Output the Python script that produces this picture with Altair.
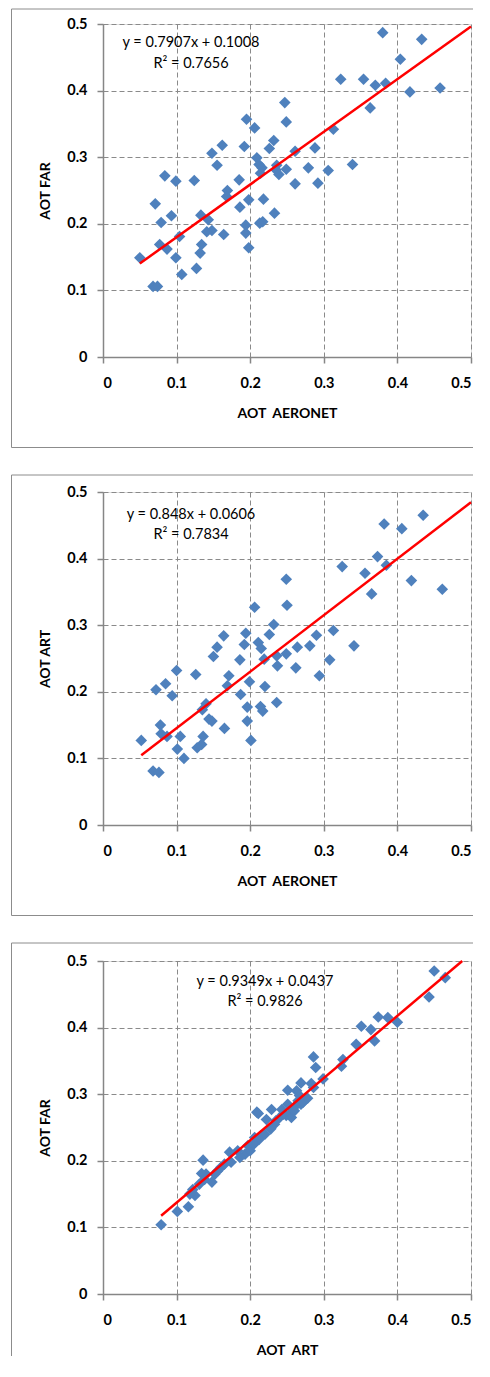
import altair as alt
import pandas as pd

# ---------------- data ----------------
ticks = [0, 0.1, 0.2, 0.3, 0.4, 0.5]

p1_x = [0.380, 0.433, 0.404, 0.323, 0.354, 0.370, 0.384, 0.417, 0.458, 0.363,
        0.247, 0.249, 0.195, 0.206, 0.313, 0.232, 0.226, 0.192, 0.162, 0.148,
        0.155, 0.209, 0.212, 0.216, 0.214, 0.236, 0.235, 0.239, 0.249, 0.261,
        0.288, 0.279, 0.306, 0.339, 0.261, 0.292, 0.185, 0.169, 0.168, 0.198,
        0.218, 0.186, 0.233, 0.213, 0.217, 0.194, 0.194, 0.198, 0.164, 0.148,
        0.141, 0.143, 0.133, 0.124, 0.099, 0.084, 0.071, 0.093, 0.079, 0.077,
        0.087, 0.104, 0.099, 0.107, 0.134, 0.132, 0.127, 0.050, 0.068, 0.074]
p1_y = [0.487, 0.477, 0.447, 0.417, 0.417, 0.408, 0.411, 0.398, 0.404, 0.374,
        0.382, 0.353, 0.357, 0.344, 0.342, 0.325, 0.313, 0.316, 0.318, 0.306,
        0.288, 0.299, 0.289, 0.284, 0.276, 0.288, 0.281, 0.274, 0.282, 0.309,
        0.314, 0.284, 0.280, 0.289, 0.260, 0.261, 0.266, 0.250, 0.241, 0.236,
        0.237, 0.225, 0.216, 0.201, 0.203, 0.198, 0.186, 0.164, 0.184, 0.190,
        0.188, 0.206, 0.213, 0.265, 0.264, 0.272, 0.230, 0.212, 0.202, 0.169,
        0.162, 0.181, 0.149, 0.124, 0.169, 0.156, 0.133, 0.149, 0.106, 0.106]

p2_x = [0.435, 0.382, 0.406, 0.373, 0.385, 0.325, 0.356, 0.365, 0.419, 0.461,
        0.249, 0.250, 0.313, 0.290, 0.281, 0.264, 0.341, 0.249, 0.308, 0.294,
        0.262, 0.206, 0.232, 0.226, 0.194, 0.192, 0.164, 0.155, 0.211, 0.215,
        0.150, 0.186, 0.219, 0.236, 0.237, 0.100, 0.126, 0.072, 0.085, 0.094,
        0.171, 0.169, 0.199, 0.187, 0.220, 0.236, 0.140, 0.135, 0.144, 0.148,
        0.165, 0.196, 0.214, 0.217, 0.196, 0.201, 0.078, 0.079, 0.087, 0.105,
        0.052, 0.101, 0.110, 0.136, 0.134, 0.128, 0.068, 0.076]
p2_y = [0.465, 0.452, 0.445, 0.403, 0.390, 0.388, 0.378, 0.347, 0.367, 0.354,
        0.369, 0.330, 0.292, 0.285, 0.269, 0.267, 0.269, 0.257, 0.248, 0.224,
        0.236, 0.327, 0.301, 0.286, 0.288, 0.271, 0.284, 0.267, 0.274, 0.265,
        0.253, 0.248, 0.249, 0.254, 0.239, 0.232, 0.226, 0.203, 0.212, 0.194,
        0.224, 0.209, 0.215, 0.196, 0.208, 0.184, 0.182, 0.173, 0.159, 0.156,
        0.145, 0.177, 0.178, 0.171, 0.156, 0.127, 0.150, 0.137, 0.133, 0.133,
        0.127, 0.114, 0.100, 0.133, 0.121, 0.116, 0.081, 0.079]

p3_x = [0.450, 0.465, 0.443, 0.400, 0.387, 0.374, 0.351, 0.364, 0.369, 0.344,
        0.326, 0.324, 0.286, 0.289, 0.299, 0.283, 0.286, 0.269, 0.251, 0.263,
        0.267, 0.251, 0.269, 0.243, 0.209, 0.229, 0.211, 0.222, 0.233, 0.240,
        0.249, 0.206, 0.215, 0.197, 0.183, 0.193, 0.186, 0.172, 0.174, 0.156,
        0.148, 0.140, 0.134, 0.136, 0.131, 0.122, 0.125, 0.118, 0.116, 0.101,
        0.079, 0.255, 0.258, 0.262, 0.265, 0.272, 0.278, 0.245, 0.256, 0.260,
        0.235, 0.228, 0.220, 0.212, 0.160, 0.165, 0.152, 0.138, 0.200, 0.205]
p3_y = [0.485, 0.475, 0.446, 0.408, 0.415, 0.416, 0.402, 0.397, 0.380, 0.375,
        0.352, 0.342, 0.356, 0.340, 0.323, 0.316, 0.310, 0.317, 0.306, 0.305,
        0.298, 0.285, 0.285, 0.277, 0.273, 0.277, 0.271, 0.262, 0.255, 0.265,
        0.268, 0.235, 0.238, 0.223, 0.215, 0.210, 0.205, 0.213, 0.198, 0.185,
        0.168, 0.180, 0.181, 0.201, 0.165, 0.157, 0.148, 0.150, 0.131, 0.124,
        0.104, 0.272, 0.278, 0.283, 0.290, 0.288, 0.294, 0.270, 0.265, 0.275,
        0.260, 0.248, 0.240, 0.232, 0.190, 0.195, 0.180, 0.172, 0.215, 0.225]

fits = [(0.7907, 0.1008, "0.7656"), (0.848, 0.0606, "0.7834"), (0.9349, 0.0437, "0.9826")]
x_titles = ["AOT\u00a0 AERONET", "AOT\u00a0 AERONET", "AOT\u00a0 ART"]
y_titles = ["AOT FAR", "AOT ART", "AOT FAR"]

# ---------------- style ----------------
FONT = "Lato"
BLUE = "#4F81BD"
GRID = "#8a8a8a"
AX = "#868686"
BOX = "#8c8c8c"
W, H = 368, 333
RIGHT = 370


def axis(is_x, title):
    return alt.Axis(
        values=ticks, format="~g", grid=True, gridDash=[5, 3], gridColor=GRID,
        gridWidth=1, domainColor=AX, domainWidth=1.5, tickColor=AX, tickSize=6,
        tickWidth=1.5, labelFont=FONT, labelFontWeight="bold", labelFontSize=14.5,
        labelColor="#000000", labelPadding=13 if is_x else 10,
        title=title, titleFont=FONT, titleFontSize=14, titleFontWeight="bold",
        titleColor="#000000", titlePadding=17 if is_x else 14,
    )


def panel(xs, ys, fit, xt, yt, text_x, text_y1, text_y2, box_top, box_bottom, draw_bottom):
    slope, icpt, r2 = fit
    sx = alt.Scale(domain=[0, 0.5], nice=False, zero=True)
    sy = alt.Scale(domain=[0, 0.5], nice=False, zero=True)
    df = pd.DataFrame({"x": xs, "y": ys})
    pts = alt.Chart(df).mark_point(
        shape="diamond", filled=True, size=135, color=BLUE, opacity=1, strokeWidth=0
    ).encode(
        x=alt.X("x:Q", scale=sx, axis=axis(True, xt)),
        y=alt.Y("y:Q", scale=sy, axis=axis(False, yt)),
    )
    x0 = min(xs)
    x1 = min(0.5, (0.5 - icpt) / slope)
    ldf = pd.DataFrame({"x": [x0, x1], "y": [slope * x0 + icpt, slope * x1 + icpt]})
    line = alt.Chart(ldf).mark_line(color="#FF0000", strokeWidth=2.5).encode(
        x=alt.X("x:Q", scale=sx), y=alt.Y("y:Q", scale=sy)
    )
    eq = f"y = {slope:g}x + {icpt:g}"
    t1 = alt.Chart(pd.DataFrame({"t": [eq]})).mark_text(
        font=FONT, fontSize=14.5, color="#000000", align="center", baseline="middle"
    ).encode(text="t:N", x=alt.value(text_x), y=alt.value(text_y1))
    t2 = alt.Chart(pd.DataFrame({"t": [f"R² = {r2}"]})).mark_text(
        font=FONT, fontSize=14.5, color="#000000", align="center", baseline="middle"
    ).encode(text="t:N", x=alt.value(text_x), y=alt.value(text_y2))
    d = pd.DataFrame({"a": [0]})
    left = alt.Chart(d).mark_rule(color=BOX, strokeWidth=1).encode(
        x=alt.value(-91.5), y=alt.value(box_top), y2=alt.value(box_bottom))
    top = alt.Chart(d).mark_rule(color=BOX, strokeWidth=1).encode(
        x=alt.value(-91.5), x2=alt.value(RIGHT), y=alt.value(box_top))
    layers = [left, top]
    if draw_bottom:
        bot = alt.Chart(d).mark_rule(color=BOX, strokeWidth=1).encode(
            x=alt.value(-91.5), x2=alt.value(RIGHT), y=alt.value(box_bottom))
        layers.append(bot)
    return alt.layer(*layers, pts, line, t1, t2).properties(width=W, height=H)


c1 = panel(p1_x, p1_y, fits[0], x_titles[0], y_titles[0], 88, 19, 40, -15, 423.5, True)
c2 = panel(p2_x, p2_y, fits[1], x_titles[1], y_titles[1], 88, 22.5, 42.5, -17, 423.5, True)
c3 = panel(p3_x, p3_y, fits[2], x_titles[2], y_titles[2], 162, 20.5, 40.5, -18, 395, False)

chart = alt.vconcat(c1, c2, c3, spacing=25).properties(
    padding={"left": 2, "top": 0, "right": 0, "bottom": 0}
).configure_view(strokeWidth=0).configure(background="#ffffff")

chart.save("out.html", embed_options={"renderer": "svg", "actions": False})
